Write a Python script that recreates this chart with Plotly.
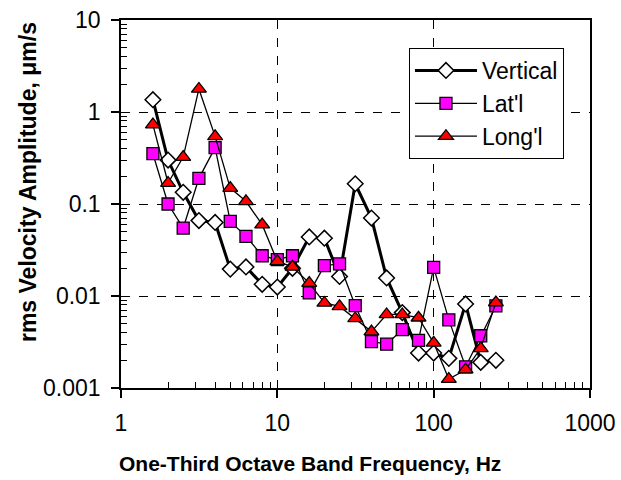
import plotly.graph_objects as go

freq = [1.6, 2, 2.5, 3.15, 4, 5, 6.3, 8, 10, 12.5, 16, 20, 25, 31.5, 40, 50, 63, 80, 100, 125, 160, 200, 250]
vertical = [1.36, 0.30, 0.134, 0.066, 0.063, 0.0196, 0.0207, 0.0134, 0.0125, 0.020, 0.0438, 0.0425, 0.0163,
            0.166, 0.0704, 0.0157, 0.0066, 0.0024, 0.0024, 0.0021, 0.0082, 0.0019, 0.0020]
lateral = [0.352, 0.100, 0.0548, 0.19, 0.41, 0.0647, 0.0445, 0.0274, 0.0248, 0.0274, 0.0108, 0.0214, 0.0223,
           0.00785, 0.0032, 0.0030, 0.0043, 0.0033, 0.0205, 0.0055, 0.0017, 0.0037, 0.0078]
longit = [0.73, 0.169, 0.324, 1.78, 0.543, 0.149, 0.107, 0.0596, 0.0238, 0.0207, 0.0138, 0.0084, 0.0077,
          0.0057, 0.0041, 0.0063, 0.0063, 0.0058, 0.0031, 0.00125, 0.00158, 0.0027, 0.0085]

x_ticks = [1, 10, 100, 1000]
x_ticktext = ["1", "10", "100", "1000"]
y_ticks = [0.001, 0.01, 0.1, 1, 10]
y_ticktext = ["0.001", "0.01", "0.1", "1", "10"]

FONT = "Liberation Sans, Arial, sans-serif"

fig = go.Figure()
fig.add_trace(go.Scatter(x=freq, y=vertical, name="Vertical", mode="lines+markers",
                         line=dict(color="black", width=3),
                         marker=dict(symbol="diamond", size=12, color="white",
                                     line=dict(color="black", width=1.5))))
fig.add_trace(go.Scatter(x=freq, y=lateral, name="Lat'l", mode="lines+markers",
                         line=dict(color="black", width=1.3),
                         marker=dict(symbol="square", size=12, color="#FF00FF",
                                     line=dict(color="black", width=1.3))))
fig.add_trace(go.Scatter(x=freq, y=longit, name="Long'l", mode="lines+markers",
                         line=dict(color="black", width=1.3),
                         marker=dict(symbol="triangle-up", size=13, color="#FF0000",
                                     line=dict(color="black", width=1.3))))

minor_x = [m * 10 ** d for d in range(0, 3) for m in range(2, 10)]
minor_y = [m * 10 ** d for d in range(-3, 1) for m in range(2, 10)]

fig.update_xaxes(type="log", range=[0, 3], tickvals=x_ticks, ticktext=x_ticktext,
                 automargin=False, ticklabeloverflow="allow",
                 showline=True, linecolor="black", linewidth=1.5, mirror=True,
                 ticks="outside", ticklen=8, tickcolor="black", tickwidth=1.5,
                 showgrid=True, gridcolor="black", griddash="dash", gridwidth=0.8,
                 zeroline=False, ticklabelstandoff=6,
                 tickfont=dict(family=FONT, size=23, color="black"),
                 minor=dict(tickmode="array", tickvals=minor_x, ticks="inside", ticklen=6,
                            tickcolor="black", tickwidth=1, showgrid=False))
fig.update_yaxes(type="log", range=[-3, 1], tickvals=y_ticks, ticktext=y_ticktext,
                 automargin=False, ticklabeloverflow="allow",
                 showline=True, linecolor="black", linewidth=1.5, mirror=True,
                 ticks="outside", ticklen=8, tickcolor="black", tickwidth=1.5,
                 showgrid=True, gridcolor="black", griddash="dash", gridwidth=0.8,
                 zeroline=False, ticklabelstandoff=6,
                 tickfont=dict(family=FONT, size=23, color="black"),
                 minor=dict(tickmode="array", tickvals=minor_y, ticks="inside", ticklen=6,
                            tickcolor="black", tickwidth=1, showgrid=False))

fig.update_layout(
    width=621, height=480,
    margin=dict(l=121, r=31, t=20, b=92, autoexpand=False),
    paper_bgcolor="white", plot_bgcolor="white",
    font=dict(family=FONT, color="black"),
    showlegend=True,
    legend=dict(x=0.614, y=0.924, xanchor="left", yanchor="top",
                bgcolor="white", bordercolor="black", borderwidth=1,
                font=dict(family=FONT, size=23, color="black"),
                tracegroupgap=0, itemwidth=62),
    annotations=[
        dict(text="<b>One-Third Octave Band Frequency, Hz</b>", xref="paper", yref="paper",
             x=0.403, y=-0.2065, xanchor="center", yanchor="middle", showarrow=False,
             font=dict(family=FONT, size=21, color="black")),
        dict(text="<b>rms Velocity Amplitude, μm/s</b>", xref="paper", yref="paper",
             x=-0.198, y=0.56, xanchor="center", yanchor="middle", showarrow=False, textangle=-90,
             font=dict(family=FONT, size=23, color="black")),
    ],
)

fig.write_html("out.html", config={"displayModeBar": False},
               post_script="document.body.style.margin='0';document.body.style.overflow='hidden';")
